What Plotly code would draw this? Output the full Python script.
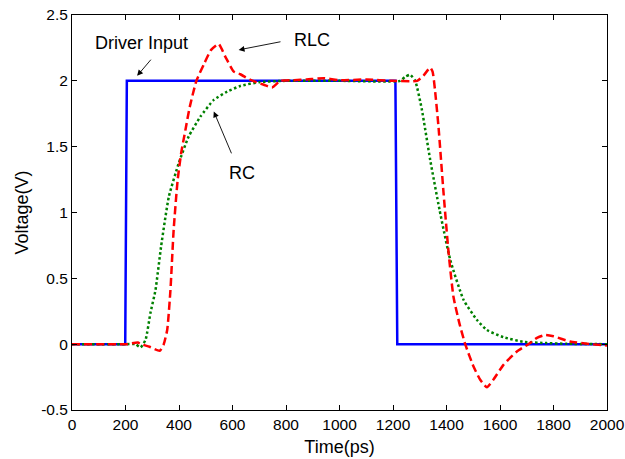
import plotly.graph_objects as go

# ---- data ----
t_driver = [0, 199, 205, 1209, 1216, 2000]
v_driver = [0, 0, 2, 2, 0, 0]

t_rc = [0, 200, 237, 256, 275, 293, 312, 333, 362, 399, 436, 480, 530, 580, 629, 700,
        800, 1000, 1227, 1245, 1264, 1283, 1308, 1339, 1374, 1414, 1464, 1514, 1551,
        1613, 1688, 1775, 1850, 2000]
v_rc = [0, 0, 0, -0.025, 0.033, 0.235, 0.41, 0.741, 1.12, 1.374, 1.576, 1.728, 1.855,
        1.918, 1.961, 1.99, 2.0, 2.0, 2.0, 2.03, 2.046, 2.0, 1.78, 1.40, 1.02, 0.64,
        0.336, 0.184, 0.108, 0.053, 0.018, 0.008, 0.003, 0.0]

t_rlc = [0, 200, 246, 258, 290, 328, 343, 356, 368, 380, 395, 408, 424, 440, 465, 495,
         520, 548, 573, 605, 629, 667, 717, 748, 779, 830, 878, 941, 1000, 1100, 1200,
         1290, 1314, 1339, 1348, 1357, 1370, 1389, 1408, 1426, 1448, 1470, 1501, 1526,
         1551, 1575, 1613, 1663, 1706, 1740, 1769, 1800, 1862, 1940, 2000]
v_rlc = [0, 0, 0.012, 0.0, -0.02, -0.05, 0.0, 0.11, 0.41, 0.868, 1.248, 1.45, 1.627,
         1.80, 2.0, 2.134, 2.235, 2.28, 2.184, 2.07, 2.05, 2.007, 1.97, 1.95, 2.0, 2.005,
         2.01, 2.02, 2.005, 2.01, 2.0, 2.0, 2.04, 2.10, 2.07, 1.93, 1.652, 1.147, 0.69,
         0.36, 0.16, 0.0, -0.17, -0.27, -0.327, -0.27, -0.157, -0.056, 0.0, 0.05, 0.07,
         0.06, 0.02, 0.0, -0.01]

x_ticks = [0, 200, 400, 600, 800, 1000, 1200, 1400, 1600, 1800, 2000]
y_ticks = [-0.5, 0, 0.5, 1, 1.5, 2, 2.5]
y_tick_text = ["-0.5", "0", "0.5", "1", "1.5", "2", "2.5"]

FONT = "Liberation Sans, Arial, sans-serif"

fig = go.Figure()
fig.add_trace(go.Scatter(x=t_driver, y=v_driver, mode="lines", name="Driver Input",
                         line=dict(color="#0000FF", width=2.5)))
fig.add_trace(go.Scatter(x=t_rc, y=v_rc, mode="lines", name="RC",
                         line=dict(color="#008000", width=2.5, dash="2.5px,2.5px",
                                   shape="spline", smoothing=0.5)))
fig.add_trace(go.Scatter(x=t_rlc, y=v_rlc, mode="lines", name="RLC",
                         line=dict(color="#FF0000", width=2.5, dash="8px,4px",
                                   shape="spline", smoothing=0.5)))

# arrows (head at x,y; tail at ax,ay, in data coords)
arrows = [
    (243.6, 2.038, 299.6, 2.172),
    (623, 2.235, 785, 2.299),
    (530, 1.767, 598.5, 1.438),
]
for hx, hy, tx, ty in arrows:
    fig.add_annotation(x=hx, y=hy, ax=tx, ay=ty, xref="x", yref="y", axref="x", ayref="y",
                       text="", showarrow=True, arrowhead=2, arrowsize=1.3,
                       arrowwidth=0.9, arrowcolor="black")

labels = [("Driver Input", 258, 2.286), ("RLC", 897, 2.311), ("RC", 636, 1.299)]
for txt, lx, ly in labels:
    fig.add_annotation(x=lx, y=ly, xref="x", yref="y", text=txt, showarrow=False,
                       font=dict(family=FONT, size=18, color="black"))

axis_common = dict(showline=True, linecolor="black", linewidth=1, mirror="ticks",
                   ticks="inside", ticklen=5, tickcolor="black", showgrid=False,
                   zeroline=False, automargin=False,
                   tickfont=dict(family=FONT, size=15.5, color="black"))

fig.update_xaxes(range=[0, 2000], tickvals=x_ticks,
                 title=dict(text="Time(ps)", font=dict(family=FONT, size=18, color="black"),
                            standoff=8),
                 **axis_common)
fig.update_yaxes(range=[-0.5, 2.5], tickvals=y_ticks, ticktext=y_tick_text,
                 title=dict(text="Voltage(V)", font=dict(family=FONT, size=18, color="black"),
                            standoff=7),
                 **axis_common)

fig.update_layout(width=625, height=459, margin=dict(l=72, r=18, t=15, b=49),
                  paper_bgcolor="white", plot_bgcolor="white", showlegend=False)

# remove the default page margin so the 625x459 figure fills the window exactly
fig.write_html("out.html", config={"displayModeBar": False},
               post_script="document.body.style.margin='0';document.body.style.overflow='hidden';")
